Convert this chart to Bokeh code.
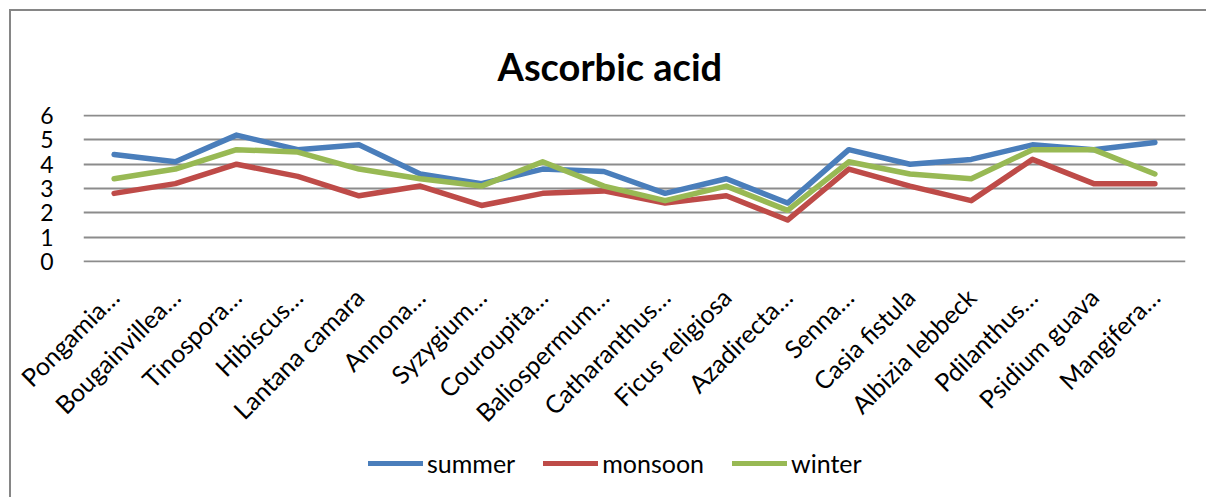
from bokeh.plotting import figure
from bokeh.layouts import column
from bokeh.models import (FactorRange, Range1d, Legend, LegendItem, FixedTicker, ColumnDataSource)
from bokeh.embed import file_html
from bokeh.resources import INLINE
import math

species = ["Pongamia…", "Bougainvillea…", "Tinospora…", "Hibiscus…", "Lantana camara",
           "Annona…", "Syzygium…", "Couroupita…", "Baliospermum…", "Catharanthus…",
           "Ficus religiosa", "Azadirecta…", "Senna…", "Casia fistula", "Albizia lebbeck",
           "Pdilanthus…", "Psidium guava", "Mangifera…"]
summer = [4.4, 4.1, 5.2, 4.6, 4.8, 3.6, 3.2, 3.8, 3.7, 2.8, 3.4, 2.4, 4.6, 4.0, 4.2, 4.8, 4.6, 4.9]
monsoon = [2.8, 3.2, 4.0, 3.5, 2.7, 3.1, 2.3, 2.8, 2.9, 2.4, 2.7, 1.7, 3.8, 3.1, 2.5, 4.2, 3.2, 3.2]
winter = [3.4, 3.8, 4.6, 4.5, 3.8, 3.4, 3.1, 4.1, 3.1, 2.5, 3.1, 2.1, 4.1, 3.6, 3.4, 4.6, 4.6, 3.6]
y_ticks = [0, 1, 2, 3, 4, 5, 6]
series_names = ["summer", "monsoon", "winter"]
series_colors = ["#4A7EBB", "#BE4B48", "#98B954"]
title_text = "Ascorbic acid"

FONT = "Lato"
OFF = 11           # 9px margin + 2px outer border
H_MAIN = 440
H_LEG = 497 - H_MAIN

p = figure(width=1206 - OFF, height=H_MAIN - OFF, x_range=FactorRange(*species, range_padding=0),
           y_range=Range1d(-0.05, 6.05), output_backend="svg", toolbar_location=None,
           min_border_left=83 - OFF, min_border_right=21, min_border_top=114 - OFF,
           min_border_bottom=H_MAIN - 263)
p.outline_line_color = None
p.background_fill_color = "white"
p.border_fill_color = "white"

p.title.text = title_text
p.title.text_font = FONT
p.title.text_font_style = "bold"
p.title.text_font_size = "38px"
p.title.text_color = "black"
p.title.align = "left"
p.title.offset = 414
p.title.standoff = 52

src = ColumnDataSource(dict(x=species, summer=summer, monsoon=monsoon, winter=winter))
for name, color in zip(series_names, series_colors):
    p.line("x", name, source=src, line_color=color, line_width=5.5,
           line_join="round", line_cap="round")

p.xgrid.grid_line_color = None
p.ygrid.grid_line_color = "#8C8C8C"
p.ygrid.grid_line_width = 2
p.yaxis.ticker = FixedTicker(ticks=y_ticks)
p.yaxis.axis_line_color = None
p.yaxis.major_tick_line_color = None
p.yaxis.minor_tick_line_color = None
p.yaxis.major_label_standoff = 24
p.yaxis.major_label_text_font = FONT
p.yaxis.major_label_text_font_size = "23px"
p.yaxis.major_label_text_color = "black"

p.xaxis.axis_line_color = None
p.xaxis.major_tick_line_color = None
p.xaxis.major_label_orientation = math.pi / 4
p.xaxis.major_label_standoff = 24
p.xaxis.major_label_text_font = FONT
p.xaxis.major_label_text_font_size = "25px"
p.xaxis.major_label_text_color = "black"

# legend strip below the chart: same series, drawn outside its visible y-range
pl = figure(width=1206 - OFF, height=H_LEG, output_backend="svg", toolbar_location=None,
            x_range=p.x_range, y_range=Range1d(100, 101),
            x_axis_location=None, y_axis_location=None, min_border=0)
pl.outline_line_color = None
pl.xgrid.visible = False
pl.ygrid.visible = False
items = []
for name, color in zip(series_names, series_colors):
    r = pl.line("x", name, source=src, line_color=color, line_width=5, line_cap="round")
    items.append(LegendItem(label=name, renderers=[r]))
legend = Legend(items=items, orientation="horizontal", location=(285, 19),
                border_line_color=None, background_fill_alpha=0,
                label_text_font=FONT, label_text_font_size="25px", label_text_color="black",
                glyph_width=55, label_standoff=4, spacing=28, padding=0, margin=0)
pl.add_layout(legend, "center")

layout = column(p, pl, spacing=0,
                styles={"margin-left": "9px", "margin-top": "9px",
                        "border-left": "2px solid #868686", "border-top": "2px solid #868686"})

open("out.html", "w").write(file_html(layout, INLINE))
